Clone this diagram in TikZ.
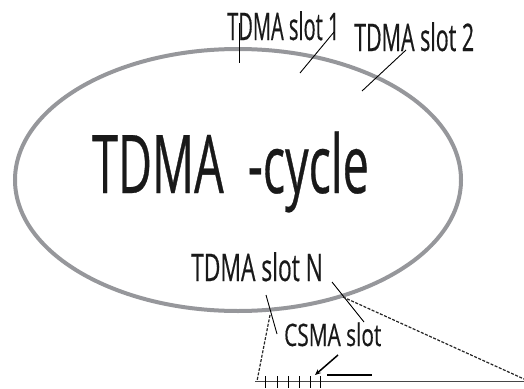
\documentclass[tikz,border=0pt]{standalone}
\usepackage{fontspec}
\setmainfont{Open Sans}[FakeStretch=0.6,FakeBold=0.4]
\usetikzlibrary{arrows.meta,shapes.geometric}
\definecolor{ringgray}{RGB}{150,151,155}
\definecolor{basegray}{RGB}{70,70,72}
\begin{document}
\begin{tikzpicture}[x=1pt,y=-1pt,
  label/.style={inner sep=0pt,anchor=base west,font=\fontsize{38}{40}\selectfont,text=black!90},
  leader/.style={draw=black,line width=0.9pt},
  zoomline/.style={draw=black!85,line width=1.2pt,dash pattern=on 3pt off 1.5pt},
  tick/.style={draw=black,line width=1pt}]
\useasboundingbox (0,0) rectangle (524,388);
% ellipse
\node[draw=ringgray,line width=4pt,ellipse,minimum width=446pt,minimum height=262pt,inner sep=0pt] (cycle) at (238,180) {};
\node[inner sep=0pt,anchor=base west,font=\fontsize{81}{84}\selectfont,text=black!90] (big) at (92,193) {\scalebox{0.96}[1]{TDMA\ \ -cycle}};
\node[label] (s1) at (227,40) {\scalebox{0.88}[1]{TDMA slot 1}};
\node[label] (s2) at (354,51) {\scalebox{0.94}[1]{TDMA slot 2}};
\node[label] (sN) at (191,281) {TDMA slot N};
\node[inner sep=0pt,anchor=base west,font=\fontsize{31}{33}\selectfont,text=black!90] (csma) at (284,346) {\scalebox{1.12}[1]{CSMA slot}};
% leader lines
\coordinate (a1) at (239,23); \coordinate (a2) at (239,63);
\coordinate (b1) at (334,32); \coordinate (b2) at (300,73);
\coordinate (c1) at (406,50); \coordinate (c2) at (362,91);
\coordinate (d1) at (266,295); \coordinate (d2) at (277,334);
\coordinate (e1) at (332,282); \coordinate (e2) at (364,322);
\draw[leader] (a1) -- (a2);
\draw[leader] (b1) -- (b2);
\draw[leader] (c1) -- (c2);
\draw[leader] (d1) -- (d2);
\draw[leader] (e1) -- (e2);
% zoom lines
\coordinate (z1) at (270,315); \coordinate (z2) at (257,381);
\coordinate (z3) at (343,297); \coordinate (z4) at (524,379);
\draw[zoomline] (z1) -- (z2);
\draw[zoomline] (z3) -- (z4);
% time axis
\coordinate (t0) at (255,381.5); \coordinate (t1) at (524,381.5);
\draw[draw=basegray,line width=1.5pt] (t0) -- (t1);
\foreach \x in {265,277,288,299,310,320} {
  \draw[tick] (\x,376) -- (\x,388);
}
% arrow and short line
\coordinate (ar1) at (338,355); \coordinate (ar2) at (315,375);
\draw[draw=black,line width=1.5pt,-{Stealth[length=6pt,width=5pt]}] (ar1) -- (ar2);
\coordinate (sl1) at (327,375); \coordinate (sl2) at (372,375);
\draw[draw=black,line width=1.5pt] (sl1) -- (sl2);
\end{tikzpicture}
\end{document}
